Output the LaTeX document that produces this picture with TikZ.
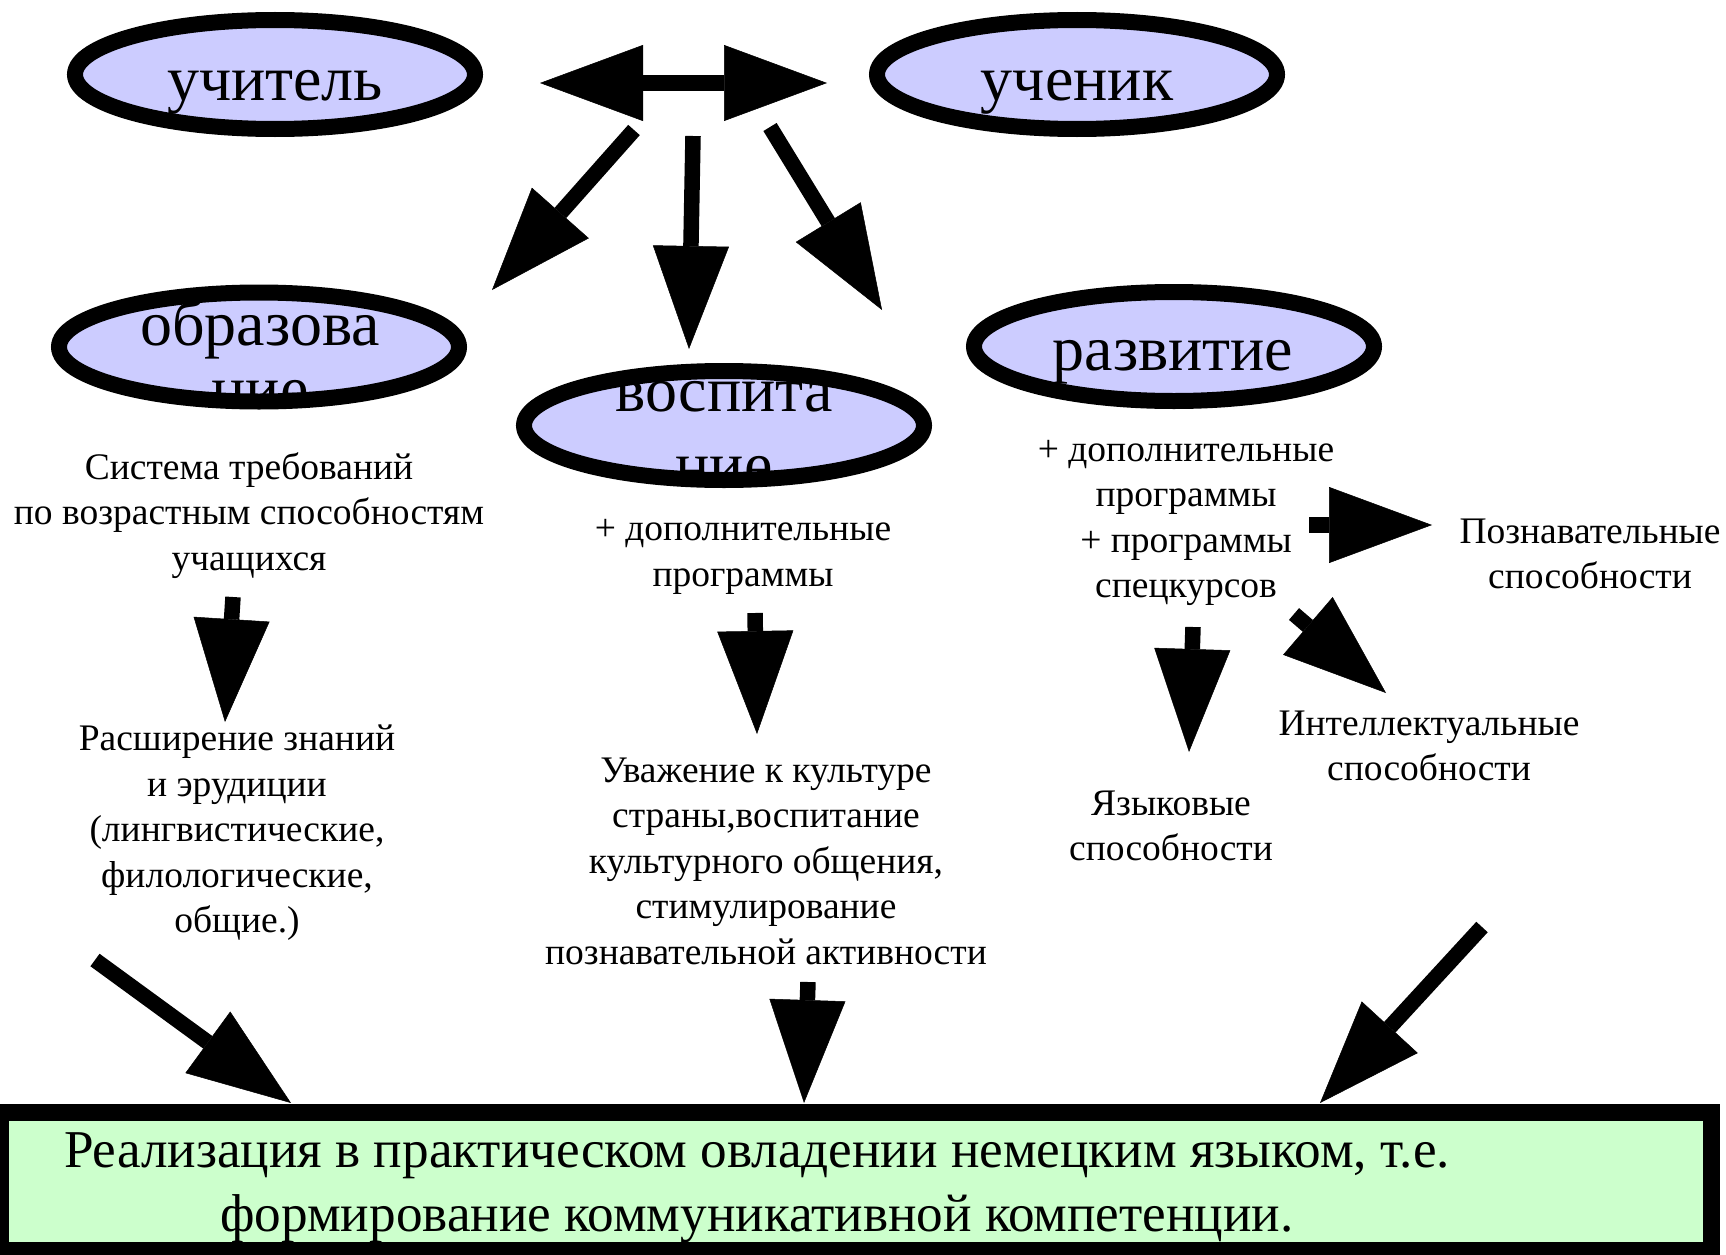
\documentclass[tikz,border=0pt]{standalone}
\usepackage{fontspec}
\setmainfont{Liberation Serif}
\usetikzlibrary{arrows.meta,shapes.geometric}
\definecolor{lav}{HTML}{CCCCFF}
\definecolor{mint}{HTML}{CCFFCC}
\begin{document}
\begin{tikzpicture}[x=1pt,y=-1pt,
  ell/.style={ellipse, draw, line width=16pt, fill=lav, inner sep=0pt, minimum width=400pt, minimum height=109pt},
  etxt/.style={anchor=base, inner sep=0pt, font=\fontsize{64}{72}\selectfont},
  btxt/.style={align=center, inner sep=0pt, font=\fontsize{37.5}{45.5}\selectfont},
  arr/.style={line width=15.5pt, -{Triangle[length=103pt,width=76pt,line width=0.5pt]}},
  darr/.style={line width=15.5pt, {Triangle[length=103pt,width=76pt,line width=0.5pt]}-{Triangle[length=103pt,width=76pt,line width=0.5pt]}},
  ]
\useasboundingbox (0,0) rectangle (1726,1255);

% top ellipses
\node[ell] (uch) at (275,74.5) {};
\node[etxt] (uchT) at (275,100) {учитель};
\node[ell] (stu) at (1077,74.5) {};
\node[etxt] (stuT) at (1077,100) {ученик};

% lower ellipses
\node[ell] (obr) at (259,347) {};
\begin{scope}
  \clip (obr.center) ellipse [x radius=200pt, y radius=54.5pt];
  \node[etxt] (obrT1) at (260,345) {образова};
  \node[etxt] (obrT2) at (260,410) {ние};
\end{scope}
\node[ell] (vos) at (724,425.5) {};
\begin{scope}
  \clip (vos.center) ellipse [x radius=200pt, y radius=54.5pt];
  \node[etxt] (vosT1) at (724,411) {воспита};
  \node[etxt] (vosT2) at (724,486) {ние};
\end{scope}
\node[ell] (raz) at (1174,346.5) {};
\node[etxt] (razT) at (1173,370) {развитие};

% body texts
\node[btxt] (t1) at (249,515.5) {Система требований\\по возрастным способностям\\учащихся};
\node[btxt] (t2) at (237,833) {Расширение знаний\\и эрудиции\\(лингвистические,\\филологические,\\общие.)};
\node[btxt] (t3) at (743,557) {+ дополнительные\\программы};
\node[btxt] (t4) at (766,861) {Уважение к культуре\\страны,воспитание\\культурного общения,\\стимулирование\\познавательной активности};
\node[btxt] (t5) at (1186,523) {+ дополнительные\\программы\\+ программы\\спецкурсов};
\node[btxt] (t6) at (1590,554) {Познавательные\\способности};
\node[btxt] (t7) at (1429,746) {Интеллектуальные\\способности};
\node[btxt] (t8) at (1171,826) {Языковые\\способности};

% result box
\node[draw, line width=17pt, fill=mint, inner sep=0pt, minimum width=1710.5pt, minimum height=138pt] (res) at (855.75,1181) {};
\node[align=center, inner sep=0pt, font=\fontsize{53.2}{64}\selectfont] (resT) at (757,1188)
  {Реализация в практическом овладении немецким языком, т.е.\\формирование коммуникативной компетенции.};

% connector coordinates
\coordinate (dA) at (540,83);
\coordinate (dB) at (827,83);
\coordinate (a1s) at (634,130);  \coordinate (a1e) at (492,290);
\coordinate (a2s) at (693,136);  \coordinate (a2e) at (689,349);
\coordinate (a3s) at (770,127);  \coordinate (a3e) at (882,310);
\coordinate (b1s) at (233,597);  \coordinate (b1e) at (225,722);
\coordinate (b2s) at (755,613);  \coordinate (b2e) at (757,734);
\coordinate (c1s) at (1309,525); \coordinate (c1e) at (1432,525);
\coordinate (c2s) at (1294,614); \coordinate (c2e) at (1386,693);
\coordinate (c3s) at (1193,627); \coordinate (c3e) at (1189,752);
\coordinate (e1s) at (95,960);   \coordinate (e1e) at (291,1103);
\coordinate (e2s) at (808,982);  \coordinate (e2e) at (804,1103);
\coordinate (e3s) at (1482,927); \coordinate (e3e) at (1320,1103);

\draw[darr] (dA) -- (dB);
\draw[arr] (a1s) -- (a1e);
\draw[arr] (a2s) -- (a2e);
\draw[arr] (a3s) -- (a3e);
\draw[arr] (b1s) -- (b1e);
\draw[arr] (b2s) -- (b2e);
\draw[arr] (c1s) -- (c1e);
\draw[arr] (c2s) -- (c2e);
\draw[arr] (c3s) -- (c3e);
\draw[arr] (e1s) -- (e1e);
\draw[arr] (e2s) -- (e2e);
\draw[arr] (e3s) -- (e3e);
\end{tikzpicture}
\end{document}
